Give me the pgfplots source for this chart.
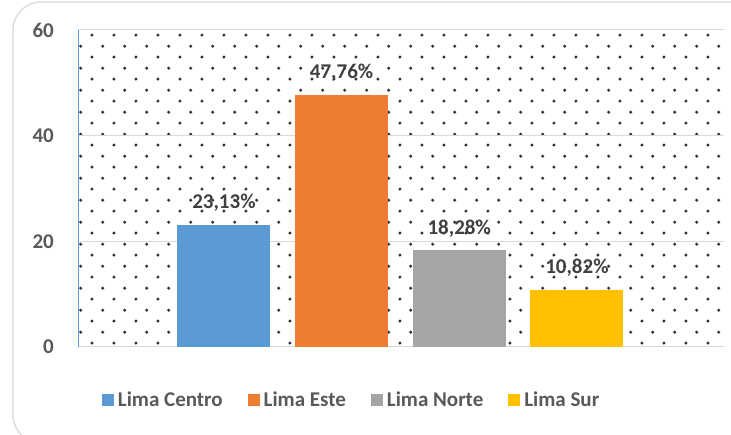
\documentclass[border=0pt]{standalone}
\usepackage{pgfplots}
\pgfplotsset{compat=1.18}
\usetikzlibrary{patterns.meta}
\usepackage{fontspec}
\setmainfont{Carlito}
\definecolor{cCentro}{HTML}{5B9BD5}
\definecolor{cEste}{HTML}{ED7D31}
\definecolor{cNorte}{HTML}{A5A5A5}
\definecolor{cSur}{HTML}{FFC000}
\definecolor{gridgray}{HTML}{D9D9D9}
\definecolor{tickgray}{HTML}{595959}
\definecolor{labelgray}{HTML}{404040}
\newcommand{\chartfont}{\fontsize{21}{21}\selectfont\bfseries}
\pgfdeclarepattern{
  name=xdots, type=uncolored,
  bottom left={\pgfpoint{0pt}{0pt}}, top right={\pgfpoint{21.7pt}{21.8pt}},
  tile size={\pgfpoint{21.7pt}{21.8pt}},
  code={
    \pgfpathcircle{\pgfpoint{5pt}{5pt}}{1.7pt}
    \pgfpathcircle{\pgfpoint{15.85pt}{15.9pt}}{1.7pt}
    \pgfusepath{fill}
  }
}
\begin{document}
\begin{tikzpicture}[x=1pt,y=1pt]
\path[use as bounding box] (0,0) rectangle (731,435);
\draw[gridgray, line width=1.3pt, rounded corners=28pt] (13,-8) rectangle (780,433);
\begin{axis}[
    at={(78pt,88pt)}, anchor=south west,
    scale only axis, width=646pt, height=317pt,
    ymin=0, ymax=60, ytick={0,20,40,60},
    xmin=-1.24, xmax=4.25, xtick=\empty,
    ybar, bar width=0.79, bar shift=0pt,
    axis lines*=left,
    x axis line style={draw=gridgray, line width=1pt},
    y axis line style={draw=cCentro, line width=0.8pt},
    major tick length=0pt,
    ymajorgrids, grid style={draw=gridgray, line width=1pt},
    axis background/.style={pattern=xdots, pattern color=black!80},
    /pgf/number format/assume math mode=true,
    yticklabel style={font=\chartfont, text=tickgray, inner sep=0pt, xshift=-24pt},
    nodes near coords={\pgfmathprintnumber[fixed, fixed zerofill, precision=2, use comma]{\pgfplotspointmeta}\%},
    nodes near coords style={font=\chartfont, text=labelgray, inner sep=0pt, anchor=south, yshift=13pt},
    legend columns=-1,
    legend style={at={(axis description cs:0.425,-0.167)}, anchor=center, draw=none, fill=none,
        font=\chartfont, text=tickgray,
        /tikz/every even column/.append style={column sep=21pt},
        nodes={inner xsep=4pt}},
    legend image code/.code={\path[#1, draw=none] (0pt,-6pt) rectangle (12pt,6pt);},
]
\addplot[fill=cCentro, draw=none] coordinates {(0,23.13)};
\addplot[fill=cEste, draw=none] coordinates {(1,47.76)};
\addplot[fill=cNorte, draw=none] coordinates {(2,18.28)};
\addplot[fill=cSur, draw=none] coordinates {(3,10.82)};
\legend{Lima Centro, Lima Este, Lima Norte, Lima Sur}
\end{axis}
\end{tikzpicture}
\end{document}
